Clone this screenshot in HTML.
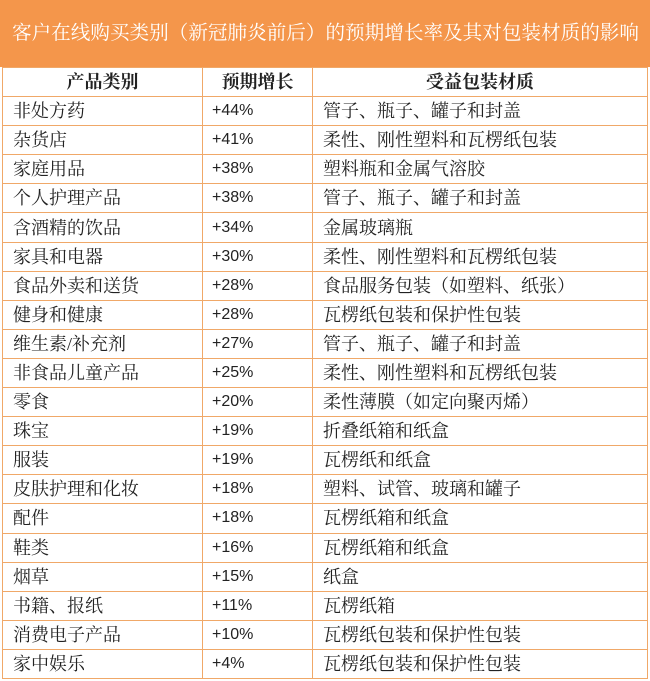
<!DOCTYPE html>
<html><head><meta charset="utf-8"><style>
body{margin:0;width:650px;height:681px;background:#fff;overflow:hidden;font-family:"Liberation Serif","Noto Serif CJK SC",serif;}
.title{position:absolute;left:0;top:0;width:650px;height:67px;background:#f4964b;color:#fff;font-size:19.6px;line-height:67px;text-align:left;padding-left:12px;box-sizing:border-box;white-space:nowrap;overflow:hidden;}
table{position:absolute;left:2px;top:67px;border-collapse:collapse;width:646px;}
td,th{border:1px solid #f0a868;height:28.1px;padding:0 0 0 10px;font-size:18px;color:#222;white-space:nowrap;line-height:20px;}
th{text-align:center;padding:0;font-weight:bold;}
td:nth-child(2){padding-left:9px;font-family:"Liberation Sans",sans-serif;font-size:16px;line-height:16px;}
</style></head><body>
<div class="title">客户在线购买类别（新冠肺炎前后）的预期增长率及其对包装材质的影响</div>
<table>
<colgroup><col style="width:200px"><col style="width:110px"><col></colgroup>
<tr><th>产品类别</th><th>预期增长</th><th>受益包装材质</th></tr>
<tr><td>非处方药</td><td>+44%</td><td>管子、瓶子、罐子和封盖</td></tr>
<tr><td>杂货店</td><td>+41%</td><td>柔性、刚性塑料和瓦楞纸包装</td></tr>
<tr><td>家庭用品</td><td>+38%</td><td>塑料瓶和金属气溶胶</td></tr>
<tr><td>个人护理产品</td><td>+38%</td><td>管子、瓶子、罐子和封盖</td></tr>
<tr><td>含酒精的饮品</td><td>+34%</td><td>金属玻璃瓶</td></tr>
<tr><td>家具和电器</td><td>+30%</td><td>柔性、刚性塑料和瓦楞纸包装</td></tr>
<tr><td>食品外卖和送货</td><td>+28%</td><td>食品服务包装（如塑料、纸张）</td></tr>
<tr><td>健身和健康</td><td>+28%</td><td>瓦楞纸包装和保护性包装</td></tr>
<tr><td>维生素/补充剂</td><td>+27%</td><td>管子、瓶子、罐子和封盖</td></tr>
<tr><td>非食品儿童产品</td><td>+25%</td><td>柔性、刚性塑料和瓦楞纸包装</td></tr>
<tr><td>零食</td><td>+20%</td><td>柔性薄膜（如定向聚丙烯）</td></tr>
<tr><td>珠宝</td><td>+19%</td><td>折叠纸箱和纸盒</td></tr>
<tr><td>服装</td><td>+19%</td><td>瓦楞纸和纸盒</td></tr>
<tr><td>皮肤护理和化妆</td><td>+18%</td><td>塑料、试管、玻璃和罐子</td></tr>
<tr><td>配件</td><td>+18%</td><td>瓦楞纸箱和纸盒</td></tr>
<tr><td>鞋类</td><td>+16%</td><td>瓦楞纸箱和纸盒</td></tr>
<tr><td>烟草</td><td>+15%</td><td>纸盒</td></tr>
<tr><td>书籍、报纸</td><td>+11%</td><td>瓦楞纸箱</td></tr>
<tr><td>消费电子产品</td><td>+10%</td><td>瓦楞纸包装和保护性包装</td></tr>
<tr><td>家中娱乐</td><td>+4%</td><td>瓦楞纸包装和保护性包装</td></tr>
</table>
</body></html>
